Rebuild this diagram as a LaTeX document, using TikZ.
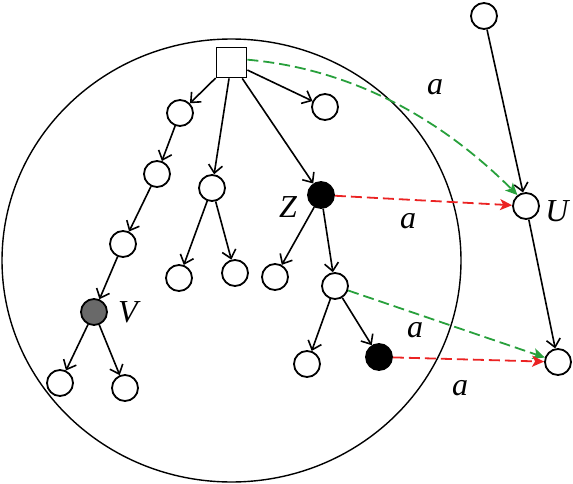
\documentclass[tikz,border=0pt]{standalone}
\usepackage{fontspec}
\setmainfont{Liberation Serif}
\usetikzlibrary{arrows.meta}

\definecolor{agreen}{RGB}{40,160,60}
\definecolor{ared}{RGB}{235,35,35}

\begin{document}
\begin{tikzpicture}[x=1pt,y=1pt,
        vtx/.style={circle,draw,line width=1.8pt,minimum size=26pt,inner sep=0pt},
        edg/.style={line width=1.6pt,-{Straight Barb[length=8pt,width=14pt]}},
        gmove/.style={agreen,line width=1.8pt,dash pattern=on 11pt off 5pt,-{Stealth[length=12pt,width=11pt,inset=3pt]}},
        rmove/.style={ared,line width=1.8pt,dash pattern=on 11pt off 5pt,-{Stealth[length=12pt,width=11pt,inset=3pt]}},
        lbl/.style={inner sep=0pt,font=\fontsize{32}{38}\selectfont\itshape}]
        \useasboundingbox (0,0) rectangle (573,-484);

        % the big region
        \draw[line width=1.4pt] (231.5,-260.5) ellipse [x radius=229.5,y radius=221.5];

        % tree inside
        \node[draw,line width=1.8pt,minimum size=30pt,inner sep=0pt] (root) at (231.5,-62.5) {};
        \node[vtx] (l1) at (180,-113) {};
        \node[vtx] (l2) at (157,-174) {};
        \node[vtx] (l3) at (123,-244) {};
        \node[vtx,fill={rgb,255:red,105;green,105;blue,105}] (V) at (94,-312) {};
        \node[vtx] (vl) at (60,-383) {};
        \node[vtx] (vr) at (125,-388) {};
        \node[vtx] (m)  at (212,-188) {};
        \node[vtx] (ml) at (179,-278) {};
        \node[vtx] (mr) at (235,-273) {};
        \node[vtx] (p)  at (325,-107) {};
        \node[vtx,fill=black] (Z) at (321,-195) {};
        \node[vtx] (zl) at (275,-277) {};
        \node[vtx] (zc) at (335,-286) {};
        \node[vtx] (zcl) at (307,-364) {};
        \node[vtx,fill=black] (zcr) at (379,-357) {};

        % chain outside
        \node[vtx] (t) at (484,-16) {};
        \node[vtx] (U) at (526,-206) {};
        \node[vtx] (b) at (558,-362) {};

        \node[lbl] (zlab) at (288,-207) {Z};
        \node[lbl] (vlab) at (128,-312) {V};
        \node[lbl] (ulab) at (557,-211) {U};

        \draw[edg] (root) -- (l1);
        \draw[edg] (root) -- (m);
        \draw[edg] (root) -- (Z);
        \draw[edg] (root) -- (p);
        \draw[edg] (l1) -- (l2);
        \draw[edg] (l2) -- (l3);
        \draw[edg] (l3) -- (V);
        \draw[edg] (V) -- (vl);
        \draw[edg] (V) -- (vr);
        \draw[edg] (m) -- (ml);
        \draw[edg] (m) -- (mr);
        \draw[edg] (Z) -- (zl);
        \draw[edg] (Z) -- (zc);
        \draw[edg] (zc) -- (zcl);
        \draw[edg] (zc) -- (zcr);
        \draw[edg] (t) -- (U);
        \draw[edg] (U) -- (b);

        % moves labelled a
        \draw[gmove] (root.10) to[out=-5,in=135,looseness=0.9] (U.128);
        \draw[rmove] (Z) -- (U);
        \draw[gmove] (zc) -- (b);
        \draw[rmove] (zcr) -- (b);

        \node[lbl] (a1) at (435,-87) {a};
        \node[lbl] (a2) at (408,-221) {a};
        \node[lbl] (a3) at (415,-330) {a};
        \node[lbl] (a4) at (460,-388) {a};
\end{tikzpicture}
\end{document}
